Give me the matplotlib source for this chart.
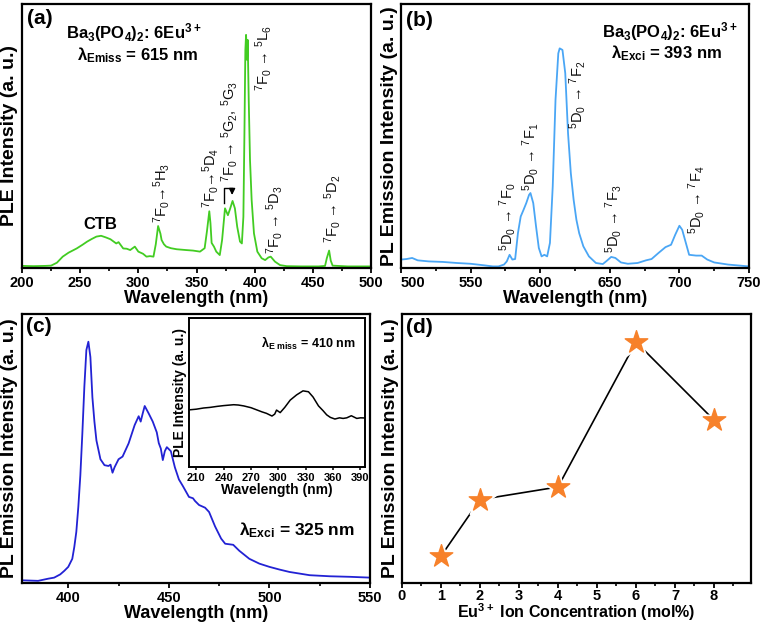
import matplotlib
matplotlib.use("Agg")
import matplotlib.pyplot as plt
from matplotlib.ticker import MultipleLocator, FuncFormatter

plt.rcParams['font.family'] = ['Liberation Sans', 'DejaVu Sans']
plt.rcParams['mathtext.default'] = 'regular'

# (a) PLE spectrum, lambda_em = 615 nm
wl_a = [200, 210, 220, 225, 230, 235, 240, 247, 252, 256, 260, 264, 268, 272, 276, 281, 283, 287,
        290, 293, 297, 300, 304, 307, 310, 313, 315, 317, 319, 320, 322, 324, 328, 333, 341, 347,
        353, 357, 359, 361, 362, 363, 365, 367, 370, 372, 374.5, 377, 379, 381, 383, 385, 387.4,
        389, 390.3, 391.2, 392, 392.6, 393.5, 394, 394.9, 396, 397.4, 399.4, 402.3, 406, 409,
        411.8, 413.8, 417.5, 421.8, 427.5, 440, 455, 460.5, 462, 464, 465.4, 467, 480, 500]
ple_a = [0.8, 0.7, 0.8, 0.9, 2.0, 4.3, 5.8, 7.4, 8.8, 10.0, 11.0, 11.9, 12.2, 11.6, 10.9, 9.3, 9.8, 7.4,
         7.3, 6.8, 8.1, 6.2, 5.4, 4.3, 4.5, 4.3, 9.0, 15.9, 13.0, 10.6, 9.0, 8.1, 7.5, 7.1, 6.8, 6.6,
         6.2, 7.5, 14.0, 21.5, 17.0, 9.5, 8.1, 6.2, 4.9, 10.6, 22.6, 20.0, 22.6, 25.4, 22.6, 15.6, 10.0,
         9.3, 19.4, 51.0, 82.6, 88.3, 78.8, 86.4, 63.6, 40.9, 25.8, 13.1, 6.2, 3.7, 3.0,
         4.0, 4.3, 2.4, 1.1, 0.7, 0.6, 0.6, 0.8, 3.7, 6.6, 2.8, 0.9, 0.6, 0.6]

# (b) PL emission, lambda_ex = 393 nm
wl_b = [500, 504, 508, 512, 520, 530, 540, 550, 560, 566, 570, 574, 576, 578, 580, 582, 584, 586,
        588, 590, 592, 593, 595, 597, 599, 601, 603, 605, 607, 609, 611, 613, 614, 616, 618, 620,
        622, 624, 626, 628, 631, 635, 640, 645, 648, 651, 654, 658, 663, 670, 676, 680, 685, 690,
        694, 697, 700, 702, 704, 707, 712, 716, 720, 725, 735, 750]
pl_b = [3.2, 3.4, 3.8, 2.9, 2.5, 2.3, 1.9, 1.6, 1.0, 0.6, 0.6, 1.3, 2.5, 5.0, 3.2, 3.4, 13.2, 19.5,
        22.0, 24.6, 27.7, 28.4, 24.6, 15.8, 7.6, 4.4, 5.0, 4.4, 9.5, 30.9, 63.7, 81.3, 83.2, 82.6, 73.8, 51.0,
        35.9, 25.9, 18.3, 13.2, 8.2, 4.4, 1.9, 1.5, 2.8, 4.2, 3.8, 2.1, 1.6, 1.9, 2.9, 3.4, 5.7, 7.9,
        8.8, 12.6, 16.0, 14.5, 10.7, 5.0, 4.7, 4.7, 3.2, 2.1, 1.3, 0.6]

# (c) PL emission, lambda_ex = 325 nm
wl_c = [377, 385, 390, 393, 396, 398, 400, 402, 403, 404, 405, 406, 407, 408, 409, 410, 411, 412,
        413, 414, 416, 418, 420, 421, 422, 423, 425, 427, 430, 433, 435, 436, 437, 438, 440, 442,
        444, 445, 446, 447, 448, 449, 451, 453, 455, 457, 460, 462, 463, 465, 468, 470, 473, 476,
        478, 482, 485, 490, 495, 500, 505, 510, 520, 530, 540, 550]
pl_c = [1.0, 0.8, 1.6, 2.0, 3.2, 4.5, 6.0, 9.0, 13.4, 19.0, 28.3, 40.0, 55.6, 73.0, 86.6, 89.7, 84.0, 69.0,
        60.0, 53.0, 46.0, 43.8, 43.5, 44.0, 41.0, 43.0, 46.0, 47.0, 51.9, 58.7, 62.0, 60.0, 63.0, 65.8, 63.0, 60.0,
        56.0, 52.0, 50.0, 45.7, 49.0, 50.5, 49.0, 43.0, 38.5, 36.0, 32.0, 31.5, 30.5, 29.0, 28.0, 26.4, 21.0, 16.5,
        14.6, 14.2, 12.0, 9.0, 7.2, 6.0, 5.0, 4.1, 2.9, 2.5, 2.3, 2.0]

# (c) inset PLE, lambda_em = 410 nm
wl_in = [203, 210, 218, 225, 233, 240, 251, 256, 262, 270, 276, 282, 287, 293, 296, 298, 302, 307,
         313, 320, 327, 333, 338, 344, 349, 353, 357, 362, 367, 371, 375, 380, 386, 390, 395]
ple_in = [38.4, 38.8, 39.6, 40.0, 40.7, 41.2, 41.8, 41.6, 41.0, 39.8, 38.4, 37.0, 36.0, 34.2, 35.5, 38.2, 36.5, 40.0,
          44.9, 48.4, 51.1, 50.5, 47.0, 41.0, 37.8, 35.0, 33.3, 32.2, 33.0, 32.6, 33.0, 34.4, 32.6, 33.0, 32.9]

# (d) concentration dependence
conc = [1, 2, 4, 6, 8]
inten_d = [0.10, 0.31, 0.357, 0.896, 0.606]

W, H = 764, 624
TICK_FS = 10.5


def add_ax(l, r, t, b):
    return fig.add_axes([l / W, 1 - b / H, (r - l) / W, (b - t) / H])


def style(ax, major, minor, ylabel, ylab_x):
    for s in ax.spines.values():
        s.set_linewidth(1.6)
    ax.xaxis.set_major_locator(MultipleLocator(major))
    ax.xaxis.set_minor_locator(MultipleLocator(minor))
    ax.set_yticks([])
    ax.tick_params(axis='x', which='major', direction='out', length=3.5, width=1.3,
                   labelsize=TICK_FS, pad=2)
    ax.tick_params(axis='x', which='minor', direction='out', length=2.5, width=1.2)
    for lbl in ax.get_xticklabels():
        lbl.set_fontweight('bold')
    ax.set_ylabel(ylabel, fontsize=14, fontweight='bold')
    ax.yaxis.set_label_coords(ylab_x, 0.5)


fig = plt.figure(figsize=(W / 100, H / 100), dpi=100)

# ---------------- (a)
ax = add_ax(22, 371, 4, 268)
ax.plot(wl_a, ple_a, color='#42cc22', lw=1.3)
ax.set_xlim(200, 500)
ax.set_ylim(0, 100)
style(ax, 50, 25, 'PLE Intensity (a. u.)', -0.012)
ax.set_xlabel('Wavelength (nm)', fontsize=13, fontweight='bold', labelpad=0)
ax.text(0.052, 0.945, '(a)', transform=ax.transAxes, fontsize=15, fontweight='bold', ha='center', va='center')
ax.text(0.321, 0.89, r'Ba$_3$(PO$_4$)$_2$: 6Eu$^{3+}$', transform=ax.transAxes, fontsize=12,
        fontweight='bold', ha='center', va='center')
ax.text(0.332, 0.807, r'λ$_{Emiss}$ = 615 nm', transform=ax.transAxes, fontsize=12,
        fontweight='bold', ha='center', va='center')
ax.text(267, 16.3, 'CTB', fontsize=12, fontweight='bold', ha='center', va='center')
lab_kw = dict(rotation=90, fontsize=10.5, ha='center', color='#111111')
ax.text(320, 17, r'$^7$F$_0$→$^5$H$_3$', va='bottom', **lab_kw)
ax.text(362, 22.7, r'$^7$F$_0$→$^5$D$_4$', va='bottom', **lab_kw)
ax.text(378.5, 32.5, r'$^7$F$_0$ → $^5$G$_2$, $^5$G$_3$', va='bottom', **lab_kw)
ax.text(408, 92, r'$^7$F$_0$ → $^5$L$_6$', va='top', **lab_kw)
ax.text(417, 5.2, r'$^7$F$_0$ → $^5$D$_3$', va='bottom', **lab_kw)
ax.text(467, 9.5, r'$^7$F$_0$ → $^5$D$_2$', va='bottom', **lab_kw)
ax.plot([373.7, 373.7, 380.6], [24.6, 30.3, 30.3], color='k', lw=1)
ax.annotate('', xy=(380.6, 26.6), xytext=(380.6, 30.6),
            arrowprops=dict(arrowstyle='-|>', color='k', lw=1, mutation_scale=9))

# ---------------- (b)
ax = add_ax(401, 749, 4, 268)
ax.plot(wl_b, pl_b, color='#4aa6f5', lw=1.3)
ax.set_xlim(500, 750)
ax.set_ylim(0, 100)
style(ax, 50, 25, 'PL Emission Intensity (a. u.)', -0.009)
# first label is nudged right so it clears the "500" of panel (a)
ax.xaxis.set_major_formatter(FuncFormatter(lambda v, p: '' if v == 500 else f'{v:.0f}'))
ax.annotate('500', xy=(500, 0), xycoords=('data', 'axes fraction'), xytext=(12, -7.6),
            textcoords='offset pixels', ha='center', va='top', fontsize=TICK_FS,
            fontweight='bold', annotation_clip=False)
ax.set_xlabel('Wavelength (nm)', fontsize=13, fontweight='bold', labelpad=0)
ax.text(0.052, 0.936, '(b)', transform=ax.transAxes, fontsize=15, fontweight='bold', ha='center', va='center')
ax.text(0.773, 0.894, r'Ba$_3$(PO$_4$)$_2$: 6Eu$^{3+}$', transform=ax.transAxes, fontsize=12,
        fontweight='bold', ha='center', va='center')
ax.text(0.764, 0.814, r'λ$_{Exci}$ = 393 nm', transform=ax.transAxes, fontsize=12,
        fontweight='bold', ha='center', va='center')
ax.text(576.6, 6.5, r'$^5$D$_0$ → $^7$F$_0$', va='bottom', **lab_kw)
ax.text(593, 29, r'$^5$D$_0$ → $^7$F$_1$', va='bottom', **lab_kw)
ax.text(626.5, 78.5, r'$^5$D$_0$ → $^7$F$_2$', va='top', **lab_kw)
ax.text(653, 5.5, r'$^5$D$_0$ → $^7$F$_3$', va='bottom', **lab_kw)
ax.text(712.4, 13.0, r'$^5$D$_0$ → $^7$F$_4$', va='bottom', **lab_kw)

# ---------------- (c)
ax = add_ax(22, 370, 314, 583)
ax.plot(wl_c, pl_c, color='#2222d4', lw=1.3)
ax.set_xlim(377, 550)
ax.set_ylim(0, 100)
style(ax, 50, 25, 'PL Emission Intensity (a. u.)', -0.011)
ax.set_xlabel('Wavelength (nm)', fontsize=13, fontweight='bold', labelpad=0)
ax.text(0.049, 0.953, '(c)', transform=ax.transAxes, fontsize=15, fontweight='bold', ha='center', va='center')
ax.text(0.79, 0.195, r'λ$_{Exci}$ = 325 nm', transform=ax.transAxes, fontsize=12.5,
        fontweight='bold', ha='center', va='center')

ins = add_ax(189, 365, 318, 467)
ins.plot(wl_in, ple_in, color='k', lw=1.1)
ins.set_xlim(202, 395)
ins.set_ylim(0, 100)
for s in ins.spines.values():
    s.set_linewidth(1.4)
ins.set_xticks(range(210, 391, 30))
ins.set_yticks([])
ins.tick_params(axis='x', direction='out', length=2.5, width=1.1, labelsize=8, pad=1.5)
for lbl in ins.get_xticklabels():
    lbl.set_fontweight('bold')
ins.set_xlabel('Wavelength (nm)', fontsize=10, fontweight='bold', labelpad=0)
ins.set_ylabel('PLE Intensity (a. u.)', fontsize=10, fontweight='bold')
ins.yaxis.set_label_coords(-0.01, 0.5)
ins.text(0.68, 0.83, r'λ$_{E\ miss}$ = 410 nm', transform=ins.transAxes, fontsize=9,
         fontweight='bold', ha='center', va='center')

# ---------------- (d)
ax = add_ax(402, 751, 314, 583)
ax.plot(conc, inten_d, color='k', lw=1.2, zorder=1)
ax.scatter(conc, inten_d, marker='*', s=620, color='white', zorder=2)
ax.scatter(conc, inten_d, marker='*', s=290, color='#f7812a', zorder=3)
ax.set_xlim(0, 8.95)
ax.set_ylim(0, 1)
style(ax, 1, 0.5, 'PL Emission Intensity (a. u.)', -0.009)
ax.tick_params(axis='x', which='major', pad=0.5)
ax.set_xlabel(r'Eu$^{3+}$ Ion Concentration (mol%)', fontsize=11.5, fontweight='bold')
ax.xaxis.label.set_va('center')
ax.xaxis.set_label_coords(0.5, -0.11)
ax.text(0.049, 0.948, '(d)', transform=ax.transAxes, fontsize=15, fontweight='bold', ha='center', va='center')

fig.savefig('out.png', dpi=100)
